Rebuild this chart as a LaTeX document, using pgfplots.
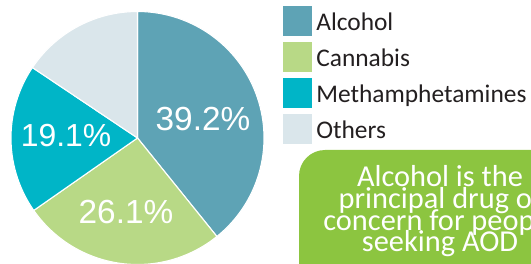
\documentclass[border=0pt]{standalone}
\usepackage{pgfplots}
\usepackage{pgfplotstable}
\pgfplotsset{compat=1.18}
\usepackage{fontspec}
\setmainfont{Carlito}
\newfontfamily\labelfont{Liberation Sans}

\definecolor{cAlc}{HTML}{5EA3B5}
\definecolor{cCan}{HTML}{B8D986}
\definecolor{cMet}{HTML}{00B5C7}
\definecolor{cOth}{HTML}{DAE6EB}
\definecolor{cBox}{HTML}{8CC540}
\definecolor{cTxt}{HTML}{231F20}

\pgfplotstableread{
name value
Alcohol 39.2
Cannabis 26.1
Methamphetamines 19.1
Others 15.6
}\drugtable

\pgfplotstablegetelem{0}{value}\of\drugtable \let\vA\pgfplotsretval
\pgfplotstablegetelem{1}{value}\of\drugtable \let\vB\pgfplotsretval
\pgfplotstablegetelem{2}{value}\of\drugtable \let\vC\pgfplotsretval
\pgfplotstablegetelem{3}{value}\of\drugtable \let\vD\pgfplotsretval
\pgfmathsetmacro\sA{0}
\pgfmathsetmacro\sB{\vA}
\pgfmathsetmacro\sC{\vA+\vB}
\pgfmathsetmacro\sD{\vA+\vB+\vC}
\pgfmathsetmacro\sE{\vA+\vB+\vC+\vD}

\def\cx{137.5}
\def\cy{126}
\def\rr{126.5}

\begin{document}
\begin{tikzpicture}
\begin{scope}
\clip (0,0) rectangle (531bp,264bp);
\begin{axis}[
  at={(0,0)}, anchor=south west,
  scale only axis, width=531bp, height=264bp,
  xmin=0, xmax=531, ymin=0, ymax=264,
  hide axis, clip=false,
  legend image code/.code={\fill[#1] (0bp,-6.5bp) rectangle (30bp,24.5bp);},
  legend style={at={(axis cs:281.7,259)}, anchor=north west,
    draw=none, fill=none, inner sep=0pt, outer sep=0pt,
    row sep=4bp, column sep=3.5bp,
    cells={anchor=base west},
    nodes={inner sep=0pt, text=cTxt, font=\fontsize{25.5}{25.5}\selectfont}},
]
\addplot[fill=cAlc, draw=white, line width=1.1pt, domain=\sA:\sB, samples=90, variable=\t]
  ({\cx+\rr*sin(3.6*\t)}, {\cy+\rr*cos(3.6*\t)}) -- (axis cs:\cx,\cy) -- cycle;
\addlegendentry{Alcohol}
\addplot[fill=cCan, draw=white, line width=1.1pt, domain=\sB:\sC, samples=70, variable=\t]
  ({\cx+\rr*sin(3.6*\t)}, {\cy+\rr*cos(3.6*\t)}) -- (axis cs:\cx,\cy) -- cycle;
\addlegendentry{Cannabis}
\addplot[fill=cMet, draw=white, line width=1.1pt, domain=\sC:\sD, samples=60, variable=\t]
  ({\cx+\rr*sin(3.6*\t)}, {\cy+\rr*cos(3.6*\t)}) -- (axis cs:\cx,\cy) -- cycle;
\addlegendentry{Methamphetamines}
\addplot[fill=cOth, draw=white, line width=1.1pt, domain=\sD:\sE, samples=50, variable=\t]
  ({\cx+\rr*sin(3.6*\t)}, {\cy+\rr*cos(3.6*\t)}) -- (axis cs:\cx,\cy) -- cycle;
\addlegendentry{Others}

\node[text=white, font=\labelfont\fontsize{33.5}{33.5}\selectfont] at (axis cs:203,145) {39.2\%};
\node[text=white, font=\labelfont\fontsize{33.5}{33.5}\selectfont] at (axis cs:126,51.5) {26.1\%};
\node[text=white, font=\labelfont\fontsize{32}{32}\selectfont] at (axis cs:66,128) {19.1\%};

\fill[cBox, rounded corners=26bp] (axis cs:299,114) rectangle (axis cs:620,-60);
\begin{scope}[every node/.style={text=white, anchor=base, inner sep=0pt, font=\fontsize{30.5}{30.5}\selectfont}]
\node at (axis cs:440,77.3) {Alcohol is the};
\node at (axis cs:440,55.6) {principal drug of};
\node at (axis cs:440,33.9) {concern for people};
\node at (axis cs:440,12.2) {seeking AOD};
\end{scope}
\end{axis}
\end{scope}
\pgfresetboundingbox
\useasboundingbox (0,0) rectangle (531bp,264bp);
\end{tikzpicture}
\end{document}
